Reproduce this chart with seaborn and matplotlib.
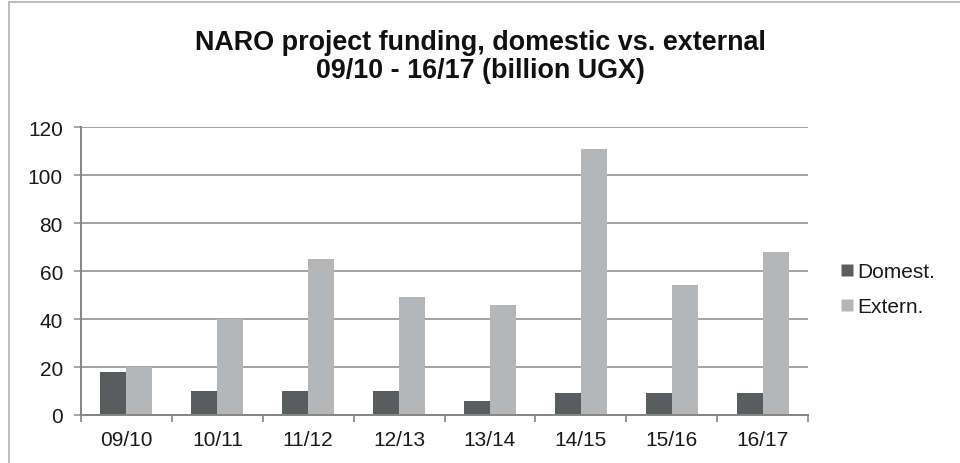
import matplotlib
matplotlib.use("Agg")
import matplotlib.pyplot as plt
import numpy as np
import pandas as pd
import seaborn as sns
from matplotlib.lines import Line2D

years = ["09/10", "10/11", "11/12", "12/13", "13/14", "14/15", "15/16", "16/17"]
domestic = [18, 10, 10, 10, 6, 9, 9, 9]
external = [20, 40, 65, 49, 46, 111, 54, 68]

df = pd.DataFrame({
    "year": years * 2,
    "value": domestic + external,
    "series": ["Domest."] * len(years) + ["Extern."] * len(years),
})

sns.set_theme(style="white")
plt.rcParams["font.family"] = ["Liberation Sans", "DejaVu Sans"]

fig = plt.figure(figsize=(9.6, 4.64), dpi=100)
ax = fig.add_axes([81 / 960, 48 / 464, 727 / 960, 288 / 464])

palette = {"Domest.": "#5a5d5d", "Extern.": "#b5b6b7"}
sns.barplot(data=df, x="year", y="value", hue="series", palette=palette,
            width=0.572, gap=0, ax=ax, saturation=1, edgecolor="none")

ax.set_ylim(0, 120)
ax.set_yticks(np.arange(0, 121, 20))
ax.set_xlim(-0.5, len(years) - 0.5)
ax.set_xlabel("")
ax.set_ylabel("")
ax.yaxis.grid(True, color="#8a8a8a", linewidth=1.1)
ax.set_axisbelow(True)

for side in ["top", "right"]:
    ax.spines[side].set_visible(False)
for side in ["left", "bottom"]:
    ax.spines[side].set_color("#858585")
    ax.spines[side].set_linewidth(1.4)

ax.tick_params(axis="y", which="major", length=5, width=1.1, color="#8a8a8a",
               labelsize=15, labelcolor="#1a1a1a", direction="out", left=True, pad=8)
ax.tick_params(axis="x", which="major", length=0, labelsize=15,
               labelcolor="#1a1a1a", pad=11)
ax.set_xticks(np.arange(-0.5, len(years), 1), minor=True)
ax.tick_params(axis="x", which="minor", length=5, color="#858585",
               width=1.2, bottom=True)

# square legend markers at the right, outside the plot area
handles = [Line2D([], [], marker="s", linestyle="none", markersize=8,
                  markerfacecolor=palette[s], markeredgecolor="none")
           for s in ["Domest.", "Extern."]]
ax.get_legend().remove()
fig.legend(handles, ["Domest.", "Extern."], loc="center left",
           bbox_to_anchor=(842 / 960, 1 - 290 / 464),
           frameon=False, fontsize=15, handlelength=0.5,
           handletextpad=0.25, labelspacing=0.75, borderaxespad=0, borderpad=0,
           labelcolor="#1a1a1a")

fig.suptitle("NARO project funding, domestic vs. external\n09/10 - 16/17 (billion UGX)",
             fontsize=19.4, fontweight="bold", y=1 - 57 / 464, va="center",
             color="#111111", linespacing=1.15)

# partial frame of the original chart box (only top and left edges visible)
fig.add_artist(Line2D([9 / 960, 9 / 960], [0, 1 - 3 / 464], transform=fig.transFigure,
                      color="#bdbdbd", linewidth=1.4))
fig.add_artist(Line2D([9 / 960, 1], [1 - 3 / 464, 1 - 3 / 464], transform=fig.transFigure,
                      color="#bdbdbd", linewidth=1.4))

fig.savefig("out.png", dpi=100)
